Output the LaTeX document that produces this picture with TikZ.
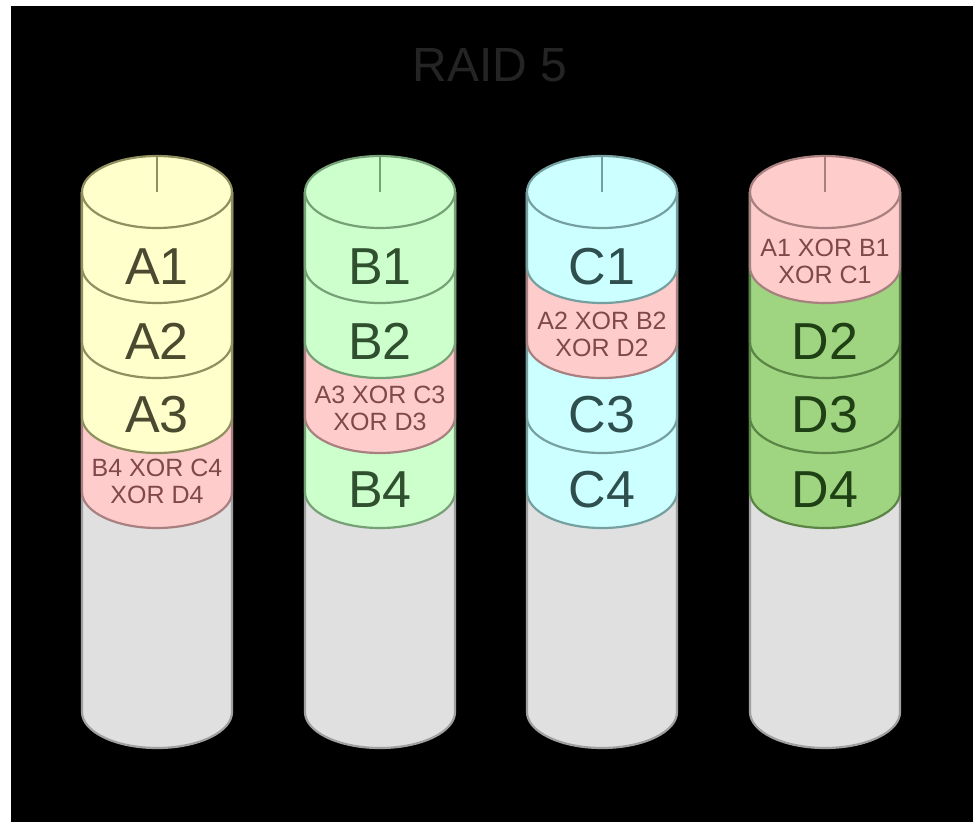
\documentclass[tikz,border=0pt]{standalone}
\usepackage{fontspec}
\setmainfont{Liberation Sans}
\definecolor{fA}{HTML}{FFFFCC}\definecolor{lA}{HTML}{8F8F60}\definecolor{tA}{HTML}{4A4A30}
\definecolor{fB}{HTML}{CCFFCC}\definecolor{lB}{HTML}{76A076}\definecolor{tB}{HTML}{2F4F2F}
\definecolor{fC}{HTML}{CCFFFF}\definecolor{lC}{HTML}{76A0A0}\definecolor{tC}{HTML}{2F4F4F}
\definecolor{fP}{HTML}{FFCCCC}\definecolor{lP}{HTML}{A88080}\definecolor{tP}{HTML}{804848}
\definecolor{fD}{HTML}{9FD480}\definecolor{lD}{HTML}{5A8545}\definecolor{tD}{HTML}{1F3F14}
\definecolor{fG}{HTML}{E0E0E0}\definecolor{lG}{HTML}{A0A0A0}
\definecolor{titlecol}{HTML}{242424}
\newcommand\raidband[3]{% cx, side level, kind
  \fill[f#3] (#1-75,192) -- (#1-75,#2) arc[start angle=180,end angle=0,x radius=75,y radius=36] -- (#1+75,192) -- cycle;
  \draw[l#3, line width=2.2pt] (#1-75,192) -- (#1-75,#2) arc[start angle=180,end angle=0,x radius=75,y radius=36] -- (#1+75,192);
}
\newcommand\raidtop[2]{% cx, kind
  \filldraw[fill=f#2, draw=l#2, line width=2.2pt] (#1,192) ellipse[x radius=75, y radius=36];
  \draw[l#2, line width=2.2pt] (#1,156) -- (#1,192);
}
\tikzset{
  big/.style={font=\fontsize{52}{56}\selectfont, inner sep=0pt},
  par/.style={font=\fontsize{25}{27}\selectfont, align=center, inner sep=0pt},
  ttl/.style={font=\fontsize{48}{52}\selectfont, text=titlecol, inner sep=0pt}
}
\begin{document}
\begin{tikzpicture}[x=1pt, y=-1pt]
\useasboundingbox (0,0) rectangle (973,822);
\fill[white] (0,0) rectangle (973,822);
\fill[black] (11,6) rectangle (973,822);
\node[ttl] (title) at (490,65) {RAID 5};
% disk 1
\raidband{157}{712}{G}\raidband{157}{492}{P}\raidband{157}{417}{A}\raidband{157}{342}{A}\raidband{157}{267}{A}\raidtop{157}{A}
\node[big, text=tA] (a1) at (157,267) {A1};
\node[big, text=tA] (a2) at (157,341) {A2};
\node[big, text=tA] (a3) at (157,415) {A3};
\node[par, text=tP] (p4) at (157,481) {B4 XOR C4\\XOR D4};
% disk 2
\raidband{380}{712}{G}\raidband{380}{492}{B}\raidband{380}{417}{P}\raidband{380}{342}{B}\raidband{380}{267}{B}\raidtop{380}{B}
\node[big, text=tB] (b1) at (380,267) {B1};
\node[big, text=tB] (b2) at (380,341) {B2};
\node[par, text=tP] (p3) at (380,408) {A3 XOR C3\\XOR D3};
\node[big, text=tB] (b4) at (380,490) {B4};
% disk 3
\raidband{602}{712}{G}\raidband{602}{492}{C}\raidband{602}{417}{C}\raidband{602}{342}{P}\raidband{602}{267}{C}\raidtop{602}{C}
\node[big, text=tC] (c1) at (602,267) {C1};
\node[par, text=tP] (p2) at (602,334) {A2 XOR B2\\XOR D2};
\node[big, text=tC] (c3) at (602,415) {C3};
\node[big, text=tC] (c4) at (602,490) {C4};
% disk 4
\raidband{825}{712}{G}\raidband{825}{492}{D}\raidband{825}{417}{D}\raidband{825}{342}{D}\raidband{825}{267}{P}\raidtop{825}{P}
\node[par, text=tP] (p1) at (825,261) {A1 XOR B1\\XOR C1};
\node[big, text=tD] (d2) at (825,341) {D2};
\node[big, text=tD] (d3) at (825,415) {D3};
\node[big, text=tD] (d4) at (825,490) {D4};
\end{tikzpicture}
\end{document}
